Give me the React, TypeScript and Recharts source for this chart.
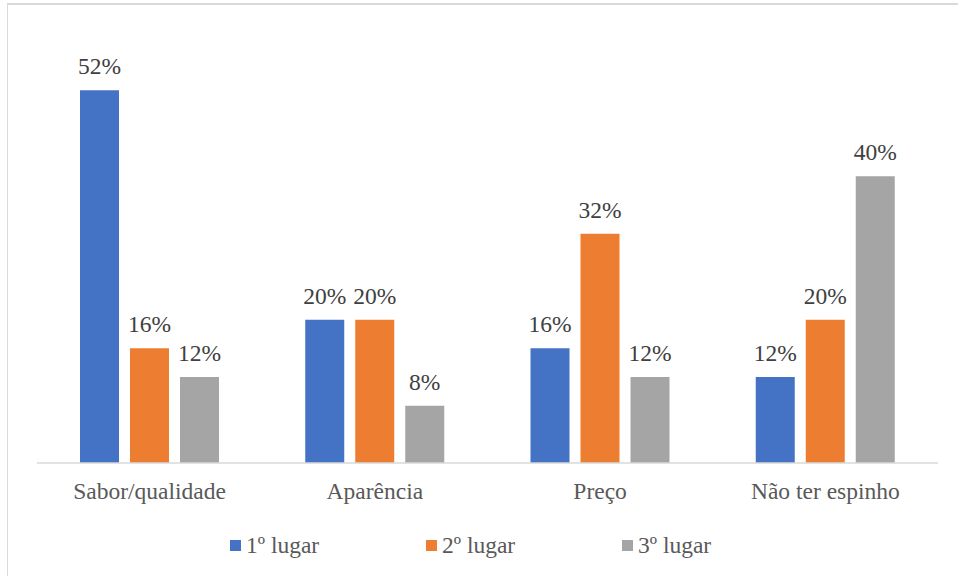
import { Bar, BarChart, LabelList, Legend, XAxis, YAxis } from "recharts";

const categories = ["Sabor/qualidade", "Aparência", "Preço", "Não ter espinho"];
const seriesNames = ["1º lugar", "2º lugar", "3º lugar"];
const primeiro = [52, 20, 16, 12];
const segundo = [16, 20, 32, 20];
const terceiro = [12, 8, 12, 40];

const colors = ["#4472C4", "#ED7D31", "#A5A5A5"];
const fontFamily = '"Liberation Serif", "Times New Roman", serif';
const fontSize = 23.5;

const data = categories.map((name, i) => ({
  name,
  s1: primeiro[i],
  s2: segundo[i],
  s3: terceiro[i],
}));

const keys = ["s1", "s2", "s3"];

function LegendContent() {
  return (
    <div style={{ display: "flex", paddingLeft: 230, fontFamily }}>
      {seriesNames.map((label, i) => (
        <div key={label} style={{ width: 196, display: "flex", alignItems: "center" }}>
          <span style={{ width: 11, height: 11, background: colors[i], marginRight: 5, display: "inline-block" }} />
          <span style={{ fontSize, color: "#595959" }}>{label}</span>
        </div>
      ))}
    </div>
  );
}

export default function App() {
  return (
    <div style={{ position: "fixed", left: 0, top: 0, width: 958, height: 576, background: "#fff", overflow: "hidden" }}>
      <div
        style={{
          position: "absolute",
          left: 7,
          top: 3,
          width: 1000,
          height: 1000,
          borderTop: "2px solid #d9d9d9",
          borderLeft: "1px solid #d9d9d9",
        }}
      />
      <BarChart
        width={958}
        height={576}
        data={data}
        margin={{ top: 33, right: 20, bottom: 83, left: 37 }}
        barSize={39}
        barGap={11}
        style={{ position: "absolute", left: 0, top: 0 }}
      >
        <XAxis
          dataKey="name"
          height={30}
          tickLine={false}
          tickMargin={13}
          axisLine={{ stroke: "#d9d9d9", strokeWidth: 1.5 }}
          tick={{ fill: "#595959", fontSize, fontFamily }}
        />
        <YAxis hide domain={[0, 60]} />
        <Legend
          verticalAlign="middle"
          content={<LegendContent />}
          wrapperStyle={{ top: 532, left: 0, width: 958 }}
        />
        {keys.map((k, i) => (
          <Bar key={k} dataKey={k} name={seriesNames[i]} fill={colors[i]} isAnimationActive={false}>
            <LabelList
              dataKey={k}
              position="top"
              offset={16}
              formatter={(v) => `${v}%`}
              fill="#404040"
              fontSize={fontSize}
              fontFamily={fontFamily}
            />
          </Bar>
        ))}
      </BarChart>
    </div>
  );
}
